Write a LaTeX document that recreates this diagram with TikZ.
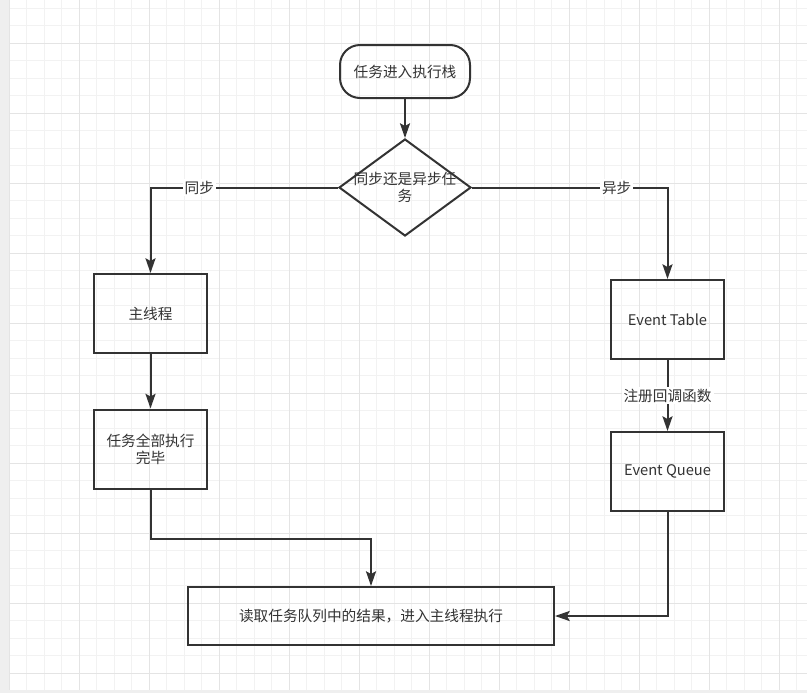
\documentclass[tikz,border=0pt]{standalone}
\usepackage{fontspec}
\newfontfamily\cjk{Noto Sans CJK SC}
\usetikzlibrary{shapes.geometric,arrows.meta}

\definecolor{ink}{HTML}{333333}
\definecolor{gridminor}{HTML}{F2F2F2}
\definecolor{gridmajor}{HTML}{E4E4E4}
\definecolor{strip}{HTML}{EFEFEF}

\tikzset{
  txt/.style={text=ink, font=\cjk\fontsize{11pt}{12.75pt}\selectfont},
  base/.style={txt, draw=ink, line width=1.5pt, inner sep=0pt},
  startbox/.style={base, rounded corners=15pt, minimum width=97.5pt, minimum height=39.75pt},
  decision/.style={base, diamond, minimum width=99pt, minimum height=72.75pt},
  process/.style={base, minimum width=84.75pt, minimum height=59.25pt},
  flow/.style={draw=ink, line width=1.5pt, -{Stealth[length=11pt,width=7.5pt,inset=2pt]}},
  edgelabel/.style={txt, fill=white, inner sep=1.5pt}
}

\begin{document}
\begin{tikzpicture}[x=0.75pt, y=-0.75pt]
    \useasboundingbox (0,0) rectangle (807,693);

    % Grid
    \fill[white] (0,0) rectangle (807,693);
    \fill[strip] (0,0) rectangle (9,693);
    \fill[strip] (0,690) rectangle (807,693);
    \foreach \x in {9,26.5,...,807} \draw[gridminor, line width=0.75pt] (\x,0) -- (\x,690);
    \foreach \y in {8,25.5,...,690} \draw[gridminor, line width=0.75pt] (9,\y) -- (807,\y);
    \foreach \x in {9,79,...,807} \draw[gridmajor, line width=0.75pt] (\x,0) -- (\x,690);
    \foreach \y in {43,113,...,690} \draw[gridmajor, line width=0.75pt] (9,\y) -- (807,\y);

    % Nodes
    \node[startbox] (start) at (405,71.5) {任务进入执行栈};
    \node[decision] (type) at (405,187.5) {};
    \node[txt, align=center] (typetext) at (type) {同步还是异步任\\务};
    \node[process] (main) at (150.5,313.5) {主线程};
    \node[process, align=center] (done) at (150.5,449) {任务全部执行\\完毕};
    \node[process] (table) at (667.5,319.5) {Event Table};
    \node[process] (queue) at (667.5,471.5) {Event Queue};
    \node[base, minimum width=274.5pt, minimum height=43.5pt] (read) at (371,616) {读取任务队列中的结果，进入主线程执行};

    % Connectors
    \draw[flow] (start) -- (type);
    \draw[flow] (type.west) -| node[edgelabel, pos=0.37] (synclabel) {同步} (main.north);
    \draw[flow] (type.east) -| node[edgelabel, pos=0.37] (asynclabel) {异步} (table.north);
    \draw[flow] (main) -- (done);
    \draw[flow] (table) -- node[edgelabel] (reglabel) {注册回调函数} (queue);
    \draw[flow] (done.south) -- ++(0,49) -| (read.north);
    \draw[flow] (queue.south) |- (read.east);
\end{tikzpicture}
\end{document}
